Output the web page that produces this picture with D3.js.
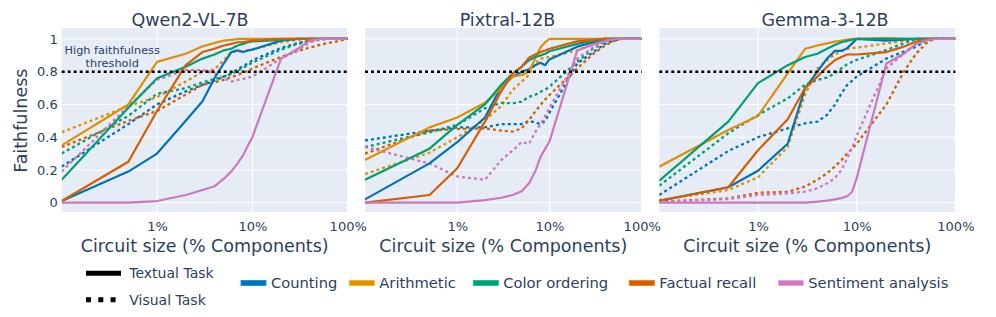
<!DOCTYPE html>
<html>
<head>
  <meta charset="utf-8">
  <script src="https://cdn.jsdelivr.net/npm/d3@7"></script>
  <style>
    body { margin: 0; background: white; }
    svg text { font-family: "DejaVu Sans", sans-serif; fill: #2a3f5f; }
  </style>
</head>
<body>
<svg id="chart" width="996" height="317"></svg>
<script>
  // circuit sizes (% of components) shared by every curve
  var sizes = [0.1, 0.5, 1, 2, 3, 4, 5, 6, 7, 8, 9, 10, 20, 30, 40, 50, 60, 70, 80, 90, 100];
  var tasks = ["Counting", "Arithmetic", "Color ordering", "Factual recall", "Sentiment analysis"];
  var models = ["Qwen2-VL-7B", "Pixtral-12B", "Gemma-3-12B"];
  var yTicks = [0, 0.2, 0.4, 0.6, 0.8, 1];
  var xTicks = [1, 10, 100];
  var threshold = 0.8;

  // faithfulness per task, in the order of `tasks`
  var qwenTextual = [
    [0.01, 0.19, 0.30, 0.50, 0.62, 0.76, 0.85, 0.92, 0.93, 0.92, 0.93, 0.935, 0.99, 1, 1, 1, 1, 1, 1, 1, 1],
    [0.35, 0.60, 0.86, 0.91, 0.955, 0.975, 0.99, 0.995, 1, 1, 1, 1, 1, 1, 1, 1, 1, 1, 1, 1, 1],
    [0.14, 0.58, 0.76, 0.83, 0.88, 0.905, 0.93, 0.94, 0.96, 0.97, 0.98, 0.985, 0.995, 1, 1, 1, 1, 1, 1, 1, 1],
    [0.01, 0.25, 0.56, 0.84, 0.92, 0.94, 0.96, 0.97, 0.98, 0.98, 0.985, 0.99, 1, 1, 1, 1, 1, 1, 1, 1, 1],
    [0, 0, 0.01, 0.047, 0.077, 0.10, 0.145, 0.19, 0.24, 0.29, 0.35, 0.40, 0.88, 0.94, 0.99, 1, 1, 1, 1, 1, 1]
  ];
  var qwenVisual = [
    [0.22, 0.48, 0.60, 0.68, 0.72, 0.745, 0.77, 0.79, 0.815, 0.835, 0.85, 0.87, 0.945, 0.975, 0.99, 1, 1, 1, 1, 1, 1],
    [0.43, 0.59, 0.645, 0.74, 0.80, 0.815, 0.87, 0.92, 0.925, 0.925, 0.93, 0.935, 0.98, 0.995, 1, 1, 1, 1, 1, 1, 1],
    [0.30, 0.53, 0.665, 0.70, 0.735, 0.755, 0.77, 0.785, 0.805, 0.825, 0.84, 0.855, 0.935, 0.97, 0.985, 0.995, 1, 1, 1, 1, 1],
    [0.34, 0.50, 0.56, 0.66, 0.72, 0.735, 0.75, 0.766, 0.78, 0.794, 0.806, 0.82, 0.89, 0.927, 0.947, 0.963, 0.973, 0.98, 0.988, 0.994, 1],
    [0.19, 0.59, 0.75, 0.81, 0.81, 0.79, 0.76, 0.74, 0.75, 0.755, 0.764, 0.77, 0.88, 0.93, 0.98, 0.995, 1, 1, 1, 1, 1]
  ];
  var pixtralTextual = [
    [0.02, 0.24, 0.37, 0.52, 0.71, 0.77, 0.80, 0.815, 0.84, 0.855, 0.84, 0.875, 0.953, 0.98, 0.996, 1, 1, 1, 1, 1, 1],
    [0.26, 0.46, 0.52, 0.61, 0.70, 0.77, 0.78, 0.80, 0.88, 0.95, 0.98, 1, 1, 1, 1, 1, 1, 1, 1, 1, 1],
    [0.14, 0.33, 0.475, 0.60, 0.72, 0.79, 0.83, 0.87, 0.89, 0.90, 0.91, 0.925, 0.97, 0.99, 1, 1, 1, 1, 1, 1, 1],
    [0, 0.047, 0.21, 0.495, 0.68, 0.79, 0.83, 0.885, 0.905, 0.92, 0.93, 0.94, 0.985, 0.995, 1, 1, 1, 1, 1, 1, 1],
    [0, 0, 0, 0.016, 0.03, 0.047, 0.07, 0.118, 0.19, 0.28, 0.33, 0.373, 0.93, 0.967, 0.988, 1, 1, 1, 1, 1, 1]
  ];
  var pixtralVisual = [
    [0.38, 0.44, 0.46, 0.46, 0.48, 0.48, 0.48, 0.50, 0.49, 0.48, 0.50, 0.55, 0.85, 0.92, 0.97, 0.99, 1, 1, 1, 1, 1],
    [0.175, 0.305, 0.40, 0.505, 0.59, 0.69, 0.74, 0.78, 0.85, 0.88, 0.885, 0.89, 0.93, 0.97, 1.005, 1, 1, 1, 1, 1, 1],
    [0.34, 0.43, 0.475, 0.576, 0.61, 0.607, 0.617, 0.648, 0.658, 0.678, 0.69, 0.709, 0.86, 0.943, 0.984, 1, 1, 1, 1, 1, 1],
    [0.30, 0.44, 0.45, 0.454, 0.44, 0.434, 0.454, 0.505, 0.556, 0.597, 0.63, 0.658, 0.82, 0.91, 0.96, 0.988, 1, 1, 1, 1, 1],
    [0.34, 0.24, 0.16, 0.14, 0.26, 0.32, 0.37, 0.36, 0.43, 0.48, 0.53, 0.58, 0.88, 0.95, 0.99, 1, 1, 1, 1, 1, 1]
  ];
  var gemmaTextual = [
    [0.012, 0.094, 0.195, 0.36, 0.70, 0.80, 0.88, 0.927, 0.927, 0.943, 0.973, 1, 0.99, 0.996, 1, 1, 1, 1, 1, 1, 1],
    [0.22, 0.444, 0.53, 0.79, 0.94, 0.96, 0.973, 0.984, 0.99, 0.996, 1, 1, 1.005, 1, 1, 1, 1, 1, 1, 1, 1],
    [0.134, 0.495, 0.73, 0.84, 0.89, 0.91, 0.94, 0.963, 0.98, 0.988, 0.995, 1, 1, 1, 1, 1, 1, 1, 1, 1, 1],
    [0.012, 0.094, 0.32, 0.51, 0.70, 0.77, 0.83, 0.87, 0.89, 0.905, 0.905, 0.905, 0.92, 0.953, 0.984, 0.996, 1, 1, 1, 1, 1],
    [0, 0, 0, 0, 0, 0.006, 0.012, 0.02, 0.028, 0.039, 0.067, 0.15, 0.85, 0.91, 0.97, 0.99, 1, 1, 1, 1, 1]
  ];
  var gemmaVisual = [
    [0.047, 0.316, 0.40, 0.454, 0.485, 0.495, 0.536, 0.597, 0.668, 0.719, 0.745, 0.77, 0.88, 0.923, 0.953, 0.988, 1, 1, 1, 1, 1],
    [0.016, 0.077, 0.155, 0.34, 0.66, 0.82, 0.87, 0.905, 0.927, 0.94, 0.945, 0.947, 0.973, 0.988, 1, 1, 1, 1, 1, 1, 1],
    [0.104, 0.424, 0.536, 0.637, 0.72, 0.75, 0.764, 0.79, 0.82, 0.845, 0.86, 0.872, 0.933, 0.973, 1, 1, 1, 1, 1, 1, 1],
    [0.006, 0.026, 0.06, 0.067, 0.098, 0.14, 0.18, 0.22, 0.26, 0.30, 0.33, 0.36, 0.60, 0.80, 0.91, 0.97, 1, 1, 1, 1, 1],
    [0.006, 0.022, 0.047, 0.057, 0.067, 0.088, 0.118, 0.15, 0.20, 0.27, 0.34, 0.41, 0.82, 0.91, 0.97, 0.99, 1, 1, 1, 1, 1]
  ];

  var colors = ["#0173b2", "#de8f05", "#029e73", "#d55e00", "#cc78bc"];

  var panels = [
    {left: 61.7, right: 347.7, titleX: 190, textual: qwenTextual, visual: qwenVisual},
    {left: 365, right: 641.7, titleX: 507.5, textual: pixtralTextual, visual: pixtralVisual},
    {left: 659.3, right: 955.4, titleX: 825, textual: gemmaTextual, visual: gemmaVisual}
  ];
  var plotTop = 28, plotBottom = 212;
  var svg = d3.select("#chart");

  var yScale = d3.scaleLinear().domain([-0.057, 1.067]).range([plotBottom, plotTop]);

  panels.forEach(function(p, i) {
    var xScale = d3.scaleLog().domain([0.1, 100]).range([p.left, p.right]);
    var g = svg.append("g");

    g.append("rect").attr("x", p.left).attr("y", plotTop)
      .attr("width", p.right - p.left).attr("height", plotBottom - plotTop)
      .attr("fill", "#e5ecf6");

    // grid
    g.selectAll(".hg").data(yTicks).enter().append("line")
      .attr("x1", p.left).attr("x2", p.right)
      .attr("y1", function(d) { return yScale(d); })
      .attr("y2", function(d) { return yScale(d); })
      .attr("stroke", "white").attr("stroke-width", 1);
    g.selectAll(".vg").data(xTicks).enter().append("line")
      .attr("x1", function(d) { return xScale(d); })
      .attr("x2", function(d) { return xScale(d); })
      .attr("y1", plotTop).attr("y2", plotBottom)
      .attr("stroke", "white").attr("stroke-width", 1);

    var clipId = "clip" + i;
    svg.append("clipPath").attr("id", clipId).append("rect")
      .attr("x", p.left).attr("y", plotTop)
      .attr("width", p.right - p.left).attr("height", plotBottom - plotTop);

    var line = d3.line()
      .x(function(d, k) { return xScale(sizes[k]); })
      .y(function(d) { return yScale(d); });

    var lines = g.append("g").attr("clip-path", "url(#" + clipId + ")");
    p.visual.forEach(function(vals, t) {
      lines.append("path").attr("d", line(vals)).attr("fill", "none")
        .attr("stroke", colors[t]).attr("stroke-width", 2.3)
        .attr("stroke-dasharray", "3,3");
    });
    p.textual.forEach(function(vals, t) {
      lines.append("path").attr("d", line(vals)).attr("fill", "none")
        .attr("stroke", colors[t]).attr("stroke-width", 2.2)
        .attr("stroke-linejoin", "round");
    });

    // threshold
    g.append("line").attr("x1", p.left).attr("x2", p.right)
      .attr("y1", yScale(threshold)).attr("y2", yScale(threshold))
      .attr("stroke", "black").attr("stroke-width", 2.5)
      .attr("stroke-dasharray", "3,3");

    // x axis
    var xAxis = d3.axisBottom(xScale).tickValues(xTicks)
      .tickFormat(function(d) { return d + "%"; }).tickSize(0).tickPadding(10);
    var xa = g.append("g").attr("transform", "translate(0," + plotBottom + ")").call(xAxis);
    xa.select(".domain").remove();
    xa.selectAll("text").attr("font-size", 13).attr("font-family", "DejaVu Sans")
      .attr("fill", "#2a3f5f");

    g.append("text").attr("x", (p.left + p.right) / 2).attr("y", 251.5)
      .attr("text-anchor", "middle").attr("font-size", 17.5)
      .text("Circuit size (% Components)");

    g.append("text").attr("x", p.titleX).attr("y", 26)
      .attr("text-anchor", "middle").attr("font-size", 17.5)
      .text(models[i]);

    if (i == 0) {
      var yAxis = d3.axisLeft(yScale).tickValues(yTicks)
        .tickFormat(function(d) { return d3.format("")(d); }).tickSize(0).tickPadding(4);
      var ya = g.append("g").attr("transform", "translate(" + p.left + ",0)").call(yAxis);
      ya.select(".domain").remove();
      ya.selectAll("text").attr("font-size", 13).attr("font-family", "DejaVu Sans")
        .attr("fill", "#2a3f5f");

      g.append("text").attr("transform", "translate(27,120.7) rotate(-90)")
        .attr("text-anchor", "middle").attr("font-size", 17.5)
        .text("Faithfulness");

      g.append("text").attr("x", 112.2).attr("y", 53.5)
        .attr("text-anchor", "middle").attr("font-size", 11.3)
        .text("High faithfulness");
      g.append("text").attr("x", 112.2).attr("y", 66.5)
        .attr("text-anchor", "middle").attr("font-size", 11.3)
        .text("threshold");
    }
  });

  // legend: line styles
  var styleLegend = [
    {label: "Textual Task", y: 273.3, dash: null},
    {label: "Visual Task", y: 299.7, dash: "5,7.3"}
  ];
  styleLegend.forEach(function(s) {
    svg.append("line").attr("x1", 86).attr("x2", s.dash ? 116 : 121)
      .attr("y1", s.y).attr("y2", s.y)
      .attr("stroke", "black").attr("stroke-width", 5)
      .attr("stroke-dasharray", s.dash);
    svg.append("text").attr("x", 129.3).attr("y", s.y + 5.1)
      .attr("font-size", 14).text(s.label);
  });

  // legend: tasks
  var legendX = [241, 349.3, 473.3, 629.3, 778.3];
  tasks.forEach(function(t, k) {
    svg.append("rect").attr("x", legendX[k]).attr("y", 280.5)
      .attr("width", 25).attr("height", 5)
      .attr("fill", colors[k]).attr("stroke", d3.color(colors[k]).brighter(0.6))
      .attr("stroke-width", 0.8);
    svg.append("text").attr("x", legendX[k] + 30).attr("y", 288.4)
      .attr("font-size", 14.7).text(t);
  });
</script>
</body>
</html>
